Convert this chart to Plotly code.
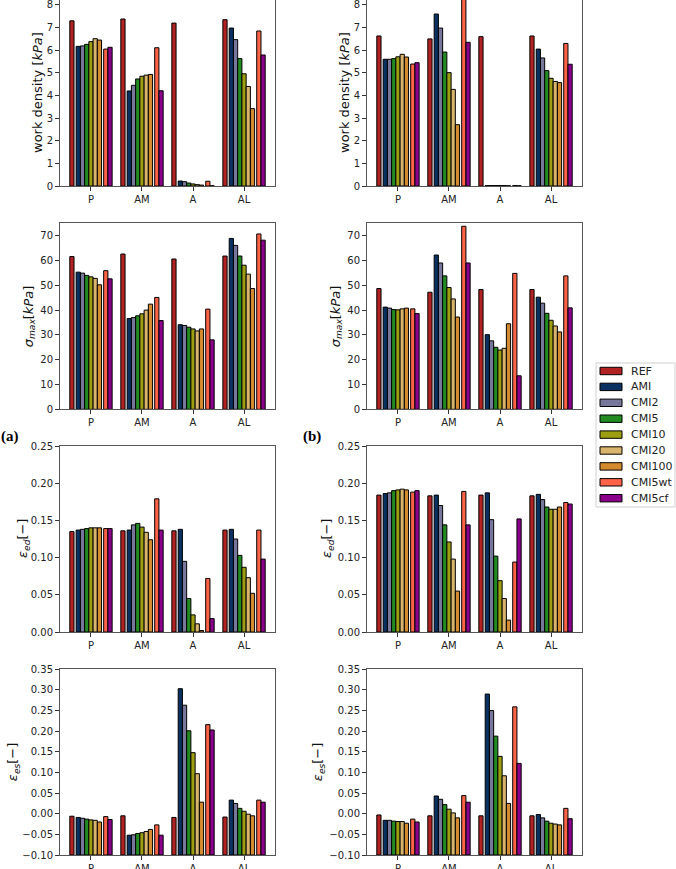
import plotly.graph_objects as go

categories = ["P", "AM", "A", "AL"]
series = ["REF", "AMI", "CMI2", "CMI5", "CMI10", "CMI20", "CMI100", "CMI5wt", "CMI5cf"]
colors = ["#b22222", "#0a3161", "#77779b", "#228b22", "#9e9e12",
          "#d8b46c", "#d48a2f", "#ff6347", "#8b008b"]

# rows = series (REF..CMI5cf), columns = categories (P, AM, A, AL)
work_density_a = [
    [7.30, 7.38, 7.20, 7.35],
    [6.17, 4.20, 0.22, 6.98],
    [6.19, 4.45, 0.19, 6.47],
    [6.26, 4.73, 0.13, 5.63],
    [6.38, 4.85, 0.09, 4.96],
    [6.51, 4.90, 0.06, 4.40],
    [6.45, 4.93, 0.04, 3.42],
    [6.05, 6.11, 0.21, 6.85],
    [6.13, 4.21, 0.01, 5.79],
]
work_density_b = [
    [6.63, 6.50, 6.60, 6.63],
    [5.60, 7.60, 0.02, 6.05],
    [5.60, 6.98, 0.02, 5.66],
    [5.63, 5.92, 0.02, 5.10],
    [5.71, 5.01, 0.02, 4.76],
    [5.82, 4.27, 0.02, 4.62],
    [5.70, 2.71, 0.01, 4.57],
    [5.39, 8.60, 0.02, 6.30],
    [5.45, 6.35, 0.01, 5.38],
]
sigma_max_a = [
    [61.6, 62.6, 60.6, 61.8],
    [55.3, 36.6, 34.1, 68.9],
    [54.9, 37.0, 33.8, 66.1],
    [54.0, 37.7, 33.1, 61.8],
    [53.4, 38.5, 32.4, 58.1],
    [52.8, 40.0, 31.6, 54.5],
    [50.2, 42.4, 32.4, 48.7],
    [55.9, 45.1, 40.4, 70.7],
    [52.6, 35.8, 28.0, 68.2],
]
sigma_max_b = [
    [48.7, 47.2, 48.3, 48.3],
    [41.2, 62.2, 30.1, 45.2],
    [40.8, 59.0, 27.6, 42.8],
    [40.2, 53.8, 25.0, 38.7],
    [40.1, 49.1, 23.9, 35.9],
    [40.5, 44.5, 24.6, 33.6],
    [40.8, 37.2, 34.5, 31.2],
    [40.5, 73.8, 54.8, 53.8],
    [38.6, 59.0, 13.5, 40.9],
]
eps_ed_a = [
    [0.135, 0.136, 0.136, 0.137],
    [0.137, 0.137, 0.138, 0.138],
    [0.138, 0.144, 0.095, 0.125],
    [0.139, 0.146, 0.045, 0.103],
    [0.140, 0.141, 0.023, 0.087],
    [0.140, 0.134, 0.011, 0.073],
    [0.140, 0.124, 0.002, 0.052],
    [0.139, 0.179, 0.072, 0.137],
    [0.139, 0.137, 0.018, 0.098],
]
eps_ed_b = [
    [0.184, 0.183, 0.184, 0.183],
    [0.186, 0.184, 0.187, 0.185],
    [0.187, 0.170, 0.151, 0.178],
    [0.190, 0.144, 0.102, 0.168],
    [0.191, 0.121, 0.069, 0.165],
    [0.192, 0.098, 0.045, 0.165],
    [0.191, 0.055, 0.016, 0.168],
    [0.188, 0.189, 0.094, 0.174],
    [0.190, 0.144, 0.152, 0.172],
]
eps_es_a = [
    [-0.006, -0.005, -0.009, -0.008],
    [-0.009, -0.052, 0.303, 0.033],
    [-0.011, -0.051, 0.263, 0.025],
    [-0.013, -0.048, 0.201, 0.013],
    [-0.015, -0.046, 0.148, 0.006],
    [-0.016, -0.043, 0.097, -0.001],
    [-0.020, -0.038, 0.028, -0.005],
    [-0.007, -0.027, 0.216, 0.033],
    [-0.014, -0.052, 0.203, 0.028],
]
eps_es_b = [
    [-0.003, -0.005, -0.005, -0.005],
    [-0.016, 0.043, 0.290, -0.002],
    [-0.016, 0.035, 0.250, -0.010],
    [-0.018, 0.022, 0.188, -0.018],
    [-0.019, 0.011, 0.139, -0.023],
    [-0.019, 0.002, 0.092, -0.025],
    [-0.023, -0.010, 0.025, -0.027],
    [-0.013, 0.044, 0.259, 0.013],
    [-0.020, 0.028, 0.122, -0.012],
]

W, H = 676, 869
bar_w = 0.083
slot = [-4.5, -3, -2, -1, 0, 1, 2, 3.5, 4.5]

# panel layout: (data, col, row, yrange, dtick, tickformat, base, title)
panels = [
    (work_density_a, 0, 0, [0, 8.22], 1, "d", 0, "work density [<i>kPa</i>]"),
    (work_density_b, 1, 0, [0, 8.22], 1, "d", 0, "work density [<i>kPa</i>]"),
    (sigma_max_a, 0, 1, [0, 75], 10, "d", 0, "<i>σ</i><sub><i>max</i></sub>[<i>kPa</i>]"),
    (sigma_max_b, 1, 1, [0, 75], 10, "d", 0, "<i>σ</i><sub><i>max</i></sub>[<i>kPa</i>]"),
    (eps_ed_a, 0, 2, [0, 0.25], 0.05, ".2f", 0, "<i>ε</i><sub><i>ed</i></sub>[−]"),
    (eps_ed_b, 1, 2, [0, 0.25], 0.05, ".2f", 0, "<i>ε</i><sub><i>ed</i></sub>[−]"),
    (eps_es_a, 0, 3, [-0.10, 0.35], 0.05, ".2f", -0.10, "<i>ε</i><sub><i>es</i></sub>[−]"),
    (eps_es_b, 1, 3, [-0.10, 0.35], 0.05, ".2f", -0.10, "<i>ε</i><sub><i>es</i></sub>[−]"),
]

x_px = [(60, 275), (367, 582)]
y_px = [(0, 186), (223.3, 409.3), (446, 632), (669.3, 855)]
title_x = [[37, 29, 23, 13], [344, 336, 327, 318]]

fig = go.Figure()
layout = dict(
    width=W, height=H,
    margin=dict(l=0, r=0, t=0, b=0),
    paper_bgcolor="white", plot_bgcolor="white",
    barmode="overlay",
    font=dict(family="DejaVu Sans", size=10, color="#222"),
    showlegend=False,
)
annotations = []
shapes = []

for k, (data, col, row, yr, dt, tf, base, title) in enumerate(panels):
    n = k + 1
    xa = "x" if n == 1 else f"x{n}"
    ya = "y" if n == 1 else f"y{n}"
    for s, name in enumerate(series):
        xs = [i + slot[s] * bar_w for i in range(len(categories))]
        vals = data[s]
        fig.add_trace(go.Bar(
            x=xs, y=[v - base for v in vals], base=base, width=bar_w,
            name=name, showlegend=False,
            marker=dict(color=colors[s], line=dict(color="black", width=1)),
            xaxis=xa, yaxis=ya,
        ))
    x0, x1 = x_px[col]
    yt, yb = y_px[row]
    axis_common = dict(
        showline=True, mirror=True, linecolor="#555", linewidth=1,
        ticks="outside", ticklen=4, tickwidth=1, tickcolor="#333",
        showgrid=False, zeroline=False, automargin=False,
        ticklabeloverflow="allow",
        tickfont=dict(family="DejaVu Sans", size=10, color="#222"),
    )
    layout["xaxis" if n == 1 else f"xaxis{n}"] = dict(
        axis_common, domain=[x0 / W, x1 / W], anchor=ya,
        range=[-0.607, 3.607], tickmode="array",
        tickvals=list(range(len(categories))), ticktext=categories,
    )
    layout["yaxis" if n == 1 else f"yaxis{n}"] = dict(
        axis_common, domain=[1 - yb / H, 1 - yt / H], anchor=xa,
        range=yr, tick0=yr[0] if base else 0, dtick=dt, tickformat=tf,
    )
    annotations.append(dict(
        text=title, textangle=-90, showarrow=False,
        xref="paper", yref="paper",
        x=title_x[col][row] / W, y=1 - (yt + yb) / 2 / H,
        xanchor="center", yanchor="middle",
        font=dict(family="DejaVu Sans", size=13, color="#111"),
    ))

for label, px in (("(a)", 10), ("(b)", 312)):
    annotations.append(dict(
        text=f"<b>{label}</b>", showarrow=False, xref="paper", yref="paper",
        x=px / W, y=1 - 436 / H, xanchor="center", yanchor="middle",
        font=dict(family="Liberation Serif", size=15, color="#000"),
    ))

# legend box drawn to match the reference's legend placement
lg_left, lg_right, lg_top, lg_bottom = 596, 675, 363, 507
shapes.append(dict(
    type="rect", xref="paper", yref="paper", layer="above",
    x0=lg_left / W, x1=lg_right / W, y0=1 - lg_bottom / H, y1=1 - lg_top / H,
    line=dict(color="#d0d0d0", width=1), fillcolor="white",
))
row0, row_step = 371, 15.9
for s, name in enumerate(series):
    yc = row0 + s * row_step
    shapes.append(dict(
        type="rect", xref="paper", yref="paper", layer="above",
        x0=600 / W, x1=622 / W, y0=1 - (yc + 3.7) / H, y1=1 - (yc - 3.7) / H,
        line=dict(color="black", width=1), fillcolor=colors[s],
    ))
    annotations.append(dict(
        text=name, showarrow=False, xref="paper", yref="paper",
        x=629 / W, y=1 - yc / H, xanchor="left", yanchor="middle",
        font=dict(family="DejaVu Sans", size=11, color="#222"),
    ))

layout["annotations"] = annotations
layout["shapes"] = shapes
fig.update_layout(**layout)
fig.write_html(
    "out.html",
    config={"displayModeBar": False},
    post_script="document.body.style.margin='0';document.body.style.overflow='hidden';",
)
